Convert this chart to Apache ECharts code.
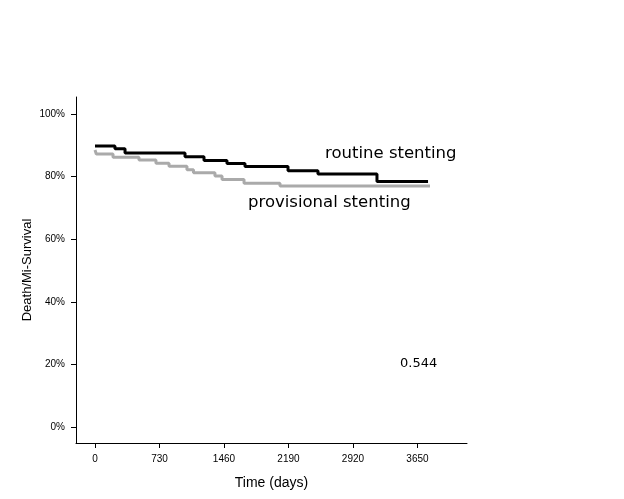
<!DOCTYPE html>
<html>
<head>
<meta charset="utf-8">
<script src="https://cdn.jsdelivr.net/npm/echarts@6/dist/echarts.min.js"></script>
<style>html,body{margin:0;padding:0;background:#fff}#c{width:624px;height:499px}</style>
</head>
<body>
<div id="c"></div>
<script>
// Data
var routineDays = [0, 226, 340, 1019, 1234, 1494, 1698, 2185, 2524, 3192, 3770];
var routineSurv = [89.8, 88.9, 87.5, 86.3, 85.1, 84.2, 83.2, 81.9, 80.8, 78.4, 78.4];
var provDays = [0, 15, 204, 498, 690, 838, 1041, 1115, 1358, 1438, 1687, 2094, 3792];
var provSurv = [88.5, 87.2, 86.2, 85.3, 84.3, 83.3, 82.2, 81.2, 80.2, 79.1, 77.9, 77.0, 77.0];
var xTicks = [0, 730, 1460, 2190, 2920, 3650];
var yTicks = [0, 20, 40, 60, 80, 100];
var seriesNames = ['routine stenting', 'provisional stenting'];
var pValue = '0.544';

function pairs(xs, ys) { return xs.map(function (x, i) { return [x, ys[i]]; }); }

var chart = echarts.init(document.getElementById('c'), null, {renderer: 'canvas'});
chart.setOption({
  backgroundColor: '#ffffff',
  animation: false,
  grid: {left: 76, right: 157, top: 97, bottom: 56, containLabel: false},
  xAxis: {
    type: 'value', min: -215, max: 4211,
    name: 'Time (days)', nameLocation: 'middle', nameGap: 33, nameMoveOverlap: false,
    nameTextStyle: {fontFamily: 'Liberation Sans', fontSize: 14, color: '#000'},
    axisLine: {show: true, onZero: false, lineStyle: {color: '#000', width: 1}},
    axisTick: {show: true, length: 5, customValues: xTicks, lineStyle: {color: '#000'}},
    axisLabel: {customValues: xTicks, margin: 11, fontFamily: 'Liberation Sans', fontSize: 10, color: '#000',
      formatter: function (v) { return String(v); }},
    splitLine: {show: false}
  },
  yAxis: {
    type: 'value', min: -5, max: 105.4,
    name: 'Death/Mi-Survival', nameLocation: 'middle', nameGap: 42, nameMoveOverlap: false,
    nameTextStyle: {fontFamily: 'Liberation Sans', fontSize: 13, color: '#000'},
    axisLine: {show: true, onZero: false, lineStyle: {color: '#000', width: 1}},
    axisTick: {show: true, length: 5, customValues: yTicks, lineStyle: {color: '#000'}},
    axisLabel: {customValues: yTicks, margin: 11, fontFamily: 'Liberation Sans', fontSize: 10, color: '#000',
      formatter: function (v) { return v + '%'; }},
    splitLine: {show: false}
  },
  series: [
    {name: seriesNames[1], type: 'line', step: 'end', symbol: 'none',
     data: pairs(provDays, provSurv), lineStyle: {color: '#aaaaaa', width: 3}},
    {name: seriesNames[0], type: 'line', step: 'end', symbol: 'none',
     data: pairs(routineDays, routineSurv), lineStyle: {color: '#000000', width: 3}}
  ],
  graphic: [
    {type: 'text', left: 325, top: 145, style: {text: seriesNames[0], font: '16.5px "DejaVu Sans"', fill: '#000'}},
    {type: 'text', left: 248, top: 194, style: {text: seriesNames[1], font: '16.5px "DejaVu Sans"', fill: '#000'}},
    {type: 'text', left: 400, top: 357, style: {text: pValue, font: '13px "DejaVu Sans"', fill: '#000'}}
  ]
});
</script>
</body>
</html>
